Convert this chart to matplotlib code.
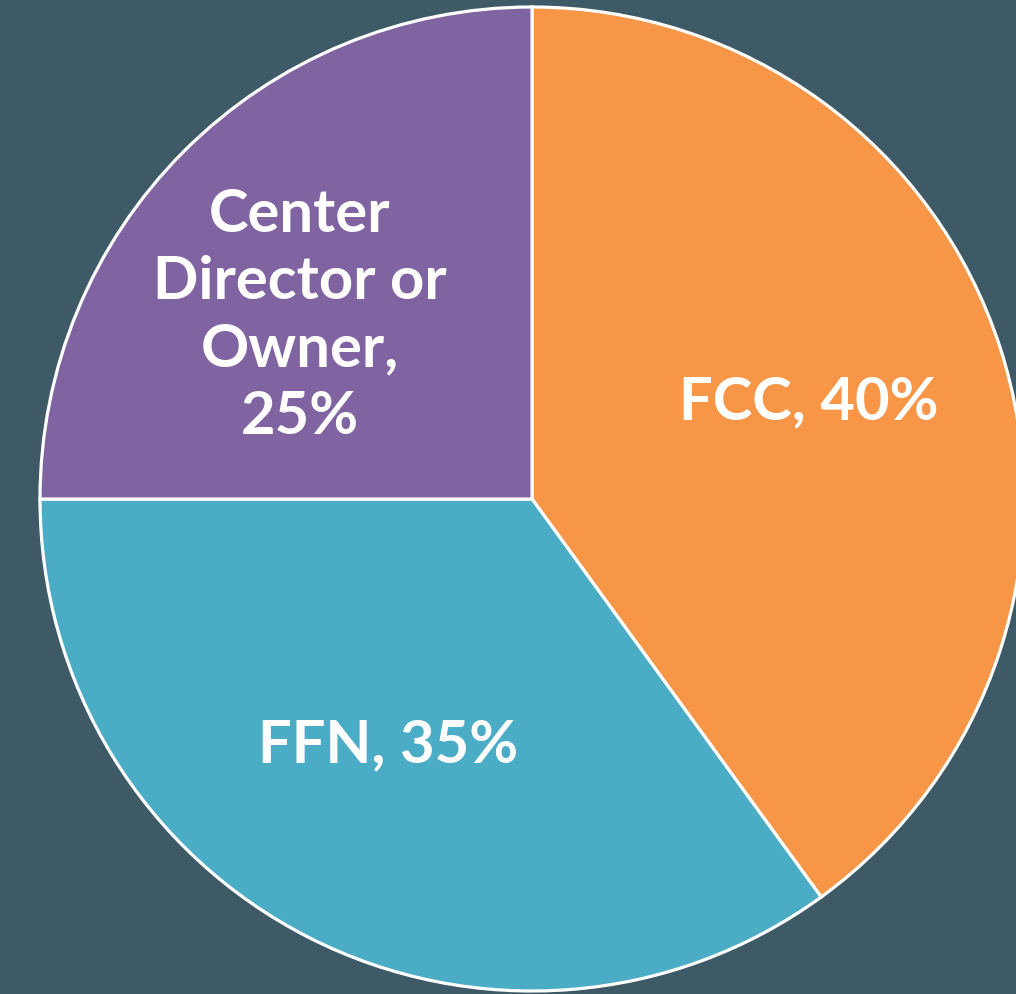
import matplotlib.pyplot as plt

labels = ["FCC", "FFN", "Center\nDirector or\nOwner"]
shares = [40, 35, 25]
colors = ["#F79646", "#4BACC6", "#8064A2"]
seps = [", ", ", ", ",\n"]

# where each label sits (pie radius = 1)
label_pos = [(0.563, 0.199), (-0.293, -0.498), (-0.472, 0.374)]

bg = "#3D5A66"
plt.rcParams['font.family'] = ['Lato', 'DejaVu Sans']

fig = plt.figure(figsize=(10.16, 9.95), dpi=100, facecolor=bg)
ax = fig.add_axes([0, 0, 1, 1])
ax.set_facecolor(bg)

wedges, _ = ax.pie(shares, colors=colors, startangle=90, counterclock=False,
                   radius=1.0, wedgeprops=dict(edgecolor="white", linewidth=2.3))

for lab, val, sep, (x, y) in zip(labels, shares, seps, label_pos):
    ax.text(x, y, f"{lab}{sep}{val}%", ha="center", va="center", color="white",
            fontsize=43, fontweight="bold", linespacing=1.31)

# center at (532, 500) px, radius 492 px
ax.set_xlim(-532 / 492, (1016 - 532) / 492)
ax.set_ylim(-(995 - 500) / 492, 500 / 492)
ax.set_aspect("equal")
ax.axis("off")

fig.savefig("out.png", dpi=100, facecolor=bg)
